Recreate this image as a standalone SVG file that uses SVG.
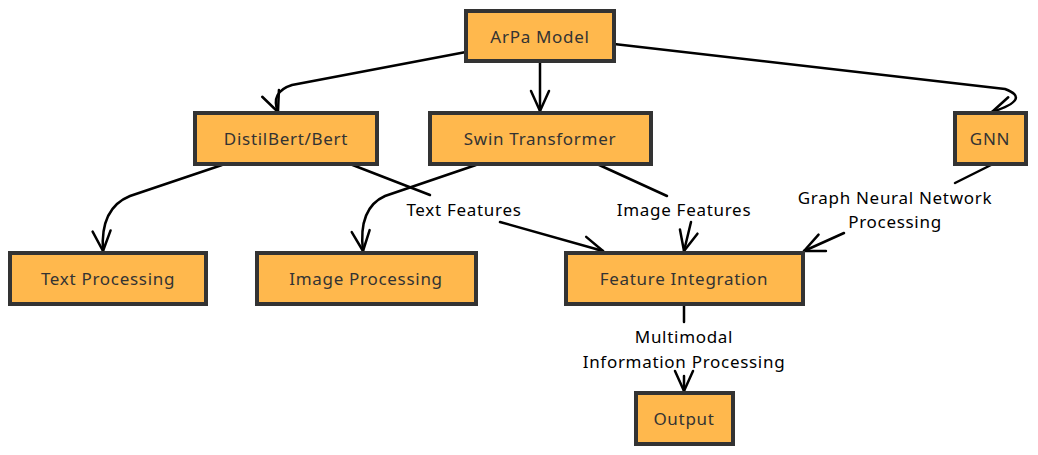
<svg xmlns="http://www.w3.org/2000/svg" width="1038" height="455" viewBox="0 0 1038 455">
<style>
.node rect{fill:#FFB84D;stroke:#333;stroke-width:4}
.node text{font-family:"Noto Sans","DejaVu Sans",sans-serif;font-size:17px;letter-spacing:0.7px;fill:#333;text-anchor:middle;dominant-baseline:central}
.edge{fill:none;stroke:#000;stroke-width:2.5;stroke-linecap:round}
.lbl{font-family:"Noto Sans","DejaVu Sans",sans-serif;font-size:17px;letter-spacing:0.7px;fill:#000;text-anchor:middle;dominant-baseline:central}
</style>
<defs>
<marker id="ah" viewBox="0 0 24 24" refX="22" refY="12" markerWidth="24" markerHeight="24" markerUnits="userSpaceOnUse" orient="auto">
<path d="M2,3 L22,12 L2,21" fill="none" stroke="#000" stroke-width="2.5" stroke-linecap="round" stroke-linejoin="round"/>
</marker>
</defs>
<rect width="1038" height="455" fill="#fff"/>
<g id="connectors">
<path class="edge" marker-end="url(#ah)" d="M466,52 L292,85 Q270,92 278,112"/>
<path class="edge" marker-end="url(#ah)" d="M540,62 L540,111"/>
<path class="edge" marker-end="url(#ah)" d="M614,44 L1005,89 Q1032,99 992,112"/>
<path class="edge" marker-end="url(#ah)" d="M222,165 L130,196 Q100,208 103,251"/>
<path class="edge" marker-end="url(#ah)" d="M476,165 L385,196 Q358,208 363,251"/>
<path class="edge" d="M350,164 L430,195"/>
<path class="edge" marker-end="url(#ah)" d="M500,222 L603,251"/>
<path class="edge" d="M597,164 L667,196"/>
<path class="edge" marker-end="url(#ah)" d="M691,222 L684,251"/>
<path class="edge" d="M993,164 L955,183"/>
<path class="edge" marker-end="url(#ah)" d="M844,233 L804,251"/>
<path class="edge" d="M684,305 L684,322"/>
<path class="edge" marker-end="url(#ah)" d="M684,376 L684,391"/>
<text class="lbl" x="464" y="209">Text Features</text>
<text class="lbl" x="684" y="209">Image Features</text>
<text class="lbl" x="895" y="197">Graph Neural Network</text>
<text class="lbl" x="895" y="221">Processing</text>
<text class="lbl" x="684" y="336">Multimodal</text>
<text class="lbl" x="684" y="361">Information Processing</text>
</g>
<g id="arpa" class="node"><rect x="466" y="11" width="148" height="50"/><text x="540" y="36">ArPa Model</text></g>
<g id="distilbert" class="node"><rect x="195" y="113" width="182" height="51"/><text x="286" y="138">DistilBert/Bert</text></g>
<g id="swin" class="node"><rect x="430" y="113" width="221" height="51"/><text x="540" y="138">Swin Transformer</text></g>
<g id="gnn" class="node"><rect x="955" y="113" width="71" height="51"/><text x="990" y="138">GNN</text></g>
<g id="textproc" class="node"><rect x="10" y="253" width="196" height="51"/><text x="108" y="278">Text Processing</text></g>
<g id="imageproc" class="node"><rect x="257" y="253" width="219" height="51"/><text x="366" y="278">Image Processing</text></g>
<g id="featint" class="node"><rect x="566" y="253" width="237" height="51"/><text x="684" y="278">Feature Integration</text></g>
<g id="output" class="node"><rect x="636" y="393" width="97" height="51"/><text x="684" y="418">Output</text></g>
</svg>
